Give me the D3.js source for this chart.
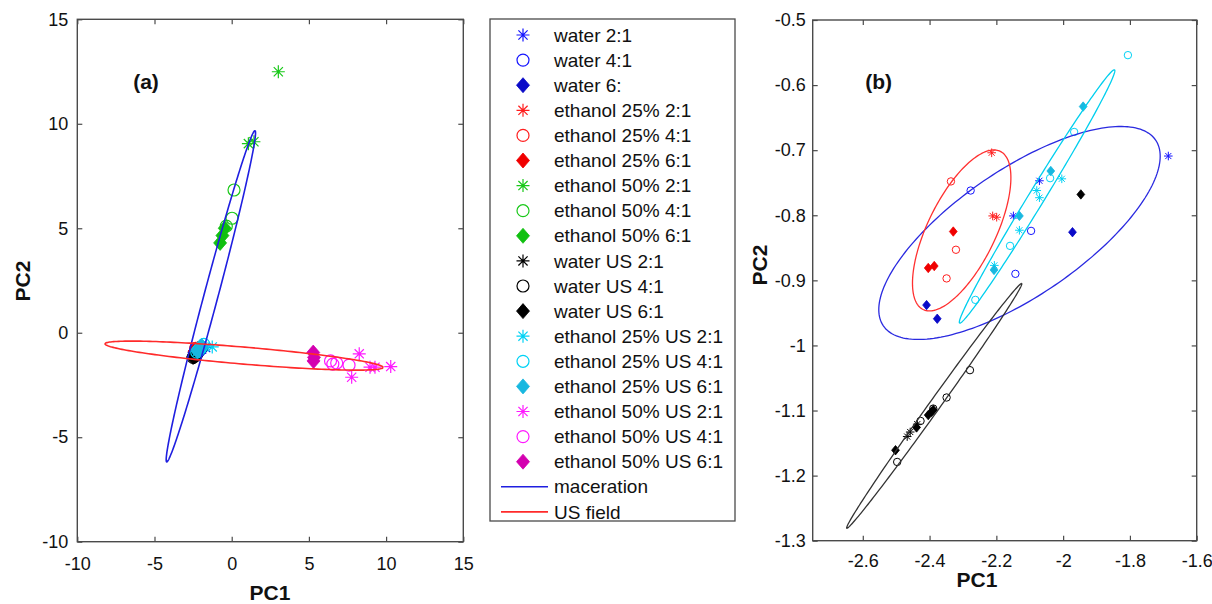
<!DOCTYPE html>
<html>
<head>
<meta charset="utf-8">
<script src="https://cdn.jsdelivr.net/npm/d3@7"></script>
<style>
  body { margin: 0; background: #fff; }
  svg { display: block; font-family: "Liberation Sans", Arial, Helvetica, sans-serif; }
</style>
</head>
<body>
<svg id="chart" width="1212" height="604"></svg>
<script>
// ---------- data: PCA scores [PC1, PC2] per extraction series ----------
const seriesLabels = [
  "water 2:1", "water 4:1", "water 6:",
  "ethanol 25% 2:1", "ethanol 25% 4:1", "ethanol 25% 6:1",
  "ethanol 50% 2:1", "ethanol 50% 4:1", "ethanol 50% 6:1",
  "water US 2:1", "water US 4:1", "water US 6:1",
  "ethanol 25% US 2:1", "ethanol 25% US 4:1", "ethanol 25% US 6:1",
  "ethanol 50% US 2:1", "ethanol 50% US 4:1", "ethanol 50% US 6:1"
];
const groupLabels = ["maceration", "US field"];

const water21 = [[-1.685, -0.709], [-2.071, -0.747], [-2.149, -0.801]];
const water41 = [[-2.277, -0.762], [-2.096, -0.824], [-2.143, -0.890]];
const water61 = [[-2.409, -0.938], [-2.377, -0.959], [-1.972, -0.826]];

const eth25_21 = [[-2.214, -0.704], [-2.211, -0.801], [-2.199, -0.803]];
const eth25_41 = [[-2.336, -0.748], [-2.321, -0.853], [-2.349, -0.897]];
const eth25_61 = [[-2.329, -0.825], [-2.404, -0.881], [-2.386, -0.878]];

const eth50_21 = [[3.02, 12.49], [1.08, 9.05], [1.44, 9.14]];
const eth50_41 = [[0.15, 6.83], [0.02, 5.48], [-0.35, 5.10]];
const eth50_61 = [[-0.75, 4.30], [-0.60, 4.65], [-0.45, 5.00]];

const waterUS21 = [[-2.467, -1.140], [-2.458, -1.133], [-2.437, -1.121]];
const waterUS41 = [[-2.497, -1.179], [-2.427, -1.116], [-2.389, -1.097], [-2.349, -1.080], [-2.279, -1.038]];
const waterUS61 = [[-2.502, -1.161], [-2.439, -1.126], [-2.404, -1.107], [-2.394, -1.102], [-2.389, -1.099], [-1.947, -0.768]];

const eth25US21 = [[-2.079, -0.762], [-2.071, -0.773], [-2.004, -0.744], [-2.206, -0.877], [-2.131, -0.823], [-1.26, -0.68]];
const eth25US41 = [[-1.806, -0.554], [-1.967, -0.672], [-2.039, -0.743], [-2.159, -0.847], [-2.263, -0.930]];
const eth25US61 = [[-1.940, -0.633], [-2.037, -0.732], [-2.131, -0.801], [-2.207, -0.884]];

const eth50US21 = [[8.26, -1.01], [7.77, -2.13], [8.96, -1.65], [9.28, -1.65], [10.30, -1.62]];
const eth50US41 = [[6.40, -1.35], [6.55, -1.50], [6.80, -1.45], [7.60, -1.55]];
const eth50US61 = [[5.28, -0.95], [5.33, -1.18], [5.30, -1.35]];

const seriesData = [
  water21, water41, water61,
  eth25_21, eth25_41, eth25_61,
  eth50_21, eth50_41, eth50_61,
  waterUS21, waterUS41, waterUS61,
  eth25US21, eth25US41, eth25US61,
  eth50US21, eth50US41, eth50US61
];

// confidence ellipses: centre, major semi-axis vector, minor semi-axis vector (data units)
const ellipsesA = [
  { c: [-1.35, 1.745], u: [2.86, 7.925], v: [0.438, -0.086] },     // maceration
  { c: [0.80, -1.095], u: [9.00, -0.565], v: [-0.047, -0.405] }    // US field
];
const ellipsesB = [
  { c: [-2.1307, -0.8272], u: [0.4077, 0.1427], v: [0.1065, -0.0801] },  // water
  { c: [-2.3038, -0.8233], u: [0.1155, 0.1215], v: [0.0915, -0.0229] },  // ethanol 25%
  { c: [-2.386, -1.0928], u: [0.262, 0.188], v: [0.0134, -0.0049] },     // water US
  { c: [-2.078, -0.7711], u: [0.232, 0.1945], v: [0.0204, -0.0064] }     // ethanol 25% US
];

// tick values
const ticksA = [-10, -5, 0, 5, 10, 15];
const xTicksB = [-2.6, -2.4, -2.2, -2, -1.8, -1.6];
const yTicksB = [-1.3, -1.2, -1.1, -1, -0.9, -0.8, -0.7, -0.6, -0.5];

// ---------- styles ----------
const markerKinds = ["asterisk", "circle", "diamond"];
const seriesColors = [
  "#1414ff", "#1414ff", "#0a0ac8",
  "#ff1e1e", "#ff1e1e", "#f00000",
  "#19c819", "#19c819", "#10c010",
  "#000000", "#000000", "#000000",
  "#00d2f5", "#00d2f5", "#18b8e0",
  "#ff19ff", "#ff19ff", "#d400b0"
];
const ellipseColorsA = ["#1f1fe0", "#ff2a2a"];
const ellipseColorsB = ["#2a2ae0", "#ff3030", "#333333", "#00cfee"];

const svg = d3.select("#chart");
const axisColor = "#4a4a4a";

function asteriskPath(s) {
  const d = s * 0.7071;
  return `M${-s},0L${s},0M0,${-s}L0,${s}M${-d},${-d}L${d},${d}M${-d},${d}L${d},${-d}`;
}
function diamondPath(w, h) {
  return `M0,${-h}L${w},0L0,${h}L${-w},0Z`;
}
function drawMarker(g, kind, color, sz) {
  if (kind === "asterisk") {
    g.append("path").attr("d", asteriskPath(sz.a))
      .attr("fill", "none").attr("stroke", color).attr("stroke-width", sz.sw);
  } else if (kind === "circle") {
    g.append("circle").attr("r", sz.r)
      .attr("fill", "none").attr("stroke", color).attr("stroke-width", sz.sw);
  } else {
    g.append("path").attr("d", diamondPath(sz.dw, sz.dh))
      .attr("fill", color).attr("stroke", color).attr("stroke-width", 0.8);
  }
}

function ellipsePoints(e) {
  const pts = [];
  for (let i = 0; i <= 200; i++) {
    const t = (i / 200) * 2 * Math.PI;
    pts.push([
      e.c[0] + Math.cos(t) * e.u[0] + Math.sin(t) * e.v[0],
      e.c[1] + Math.cos(t) * e.u[1] + Math.sin(t) * e.v[1]
    ]);
  }
  return pts;
}

// plain hyphen-minus tick labels
const tickText = d => String(d);

function drawPanel(opt) {
  const { id, left, right, top, bottom, xDomain, yDomain, xTicks, yTicks,
          xPad, yPad, ellipses, ellipseColors, ellipseWidth, sz } = opt;
  const x = d3.scaleLinear().domain(xDomain).range([left, right]);
  const y = d3.scaleLinear().domain(yDomain).range([bottom, top]);

  svg.append("clipPath").attr("id", "clip-" + id)
    .append("rect").attr("x", left).attr("y", top)
    .attr("width", right - left).attr("height", bottom - top);

  const plot = svg.append("g").attr("clip-path", `url(#clip-${id})`);

  seriesData.forEach((pts, i) => {
    const kind = markerKinds[i % 3];
    pts.forEach(p => {
      const g = plot.append("g").attr("transform", `translate(${x(p[0])},${y(p[1])})`);
      drawMarker(g, kind, seriesColors[i], sz);
    });
  });

  const line = d3.line().x(d => x(d[0])).y(d => y(d[1]));
  ellipses.forEach((e, i) => {
    plot.append("path").attr("d", line(ellipsePoints(e)))
      .attr("fill", "none").attr("stroke", ellipseColors[i])
      .attr("stroke-width", ellipseWidth);
  });

  const styleAxis = g => {
    g.select(".domain").remove();
    g.selectAll("line").attr("stroke", axisColor).attr("stroke-width", 1.2);
    g.selectAll("text").attr("fill", "#111").style("font-size", "18px")
      .style("font-family", '"Liberation Sans", Arial, sans-serif');
  };
  svg.append("g").attr("transform", `translate(0,${bottom})`)
    .call(d3.axisBottom(x).tickValues(xTicks).tickFormat(tickText).tickSize(-5).tickPadding(xPad))
    .call(styleAxis);
  svg.append("g").attr("transform", `translate(0,${top})`)
    .call(d3.axisTop(x).tickValues(xTicks).tickFormat("").tickSize(-5))
    .call(styleAxis);
  svg.append("g").attr("transform", `translate(${left},0)`)
    .call(d3.axisLeft(y).tickValues(yTicks).tickFormat(tickText).tickSize(-5).tickPadding(yPad))
    .call(styleAxis);
  svg.append("g").attr("transform", `translate(${right},0)`)
    .call(d3.axisRight(y).tickValues(yTicks).tickFormat("").tickSize(-5))
    .call(styleAxis);

  svg.append("rect").attr("x", left).attr("y", top)
    .attr("width", right - left).attr("height", bottom - top)
    .attr("fill", "none").attr("stroke", axisColor).attr("stroke-width", 1.4);

  return { x, y };
}

// ---------- panel (a) ----------
drawPanel({
  id: "a", left: 77.3, right: 463.3, top: 19.3, bottom: 541.7,
  xDomain: [-10, 15], yDomain: [-10, 15], xTicks: ticksA, yTicks: ticksA,
  xPad: 16, yPad: 9,
  ellipses: ellipsesA, ellipseColors: ellipseColorsA, ellipseWidth: 1.6,
  sz: { a: 6.5, r: 6, dw: 6.5, dh: 7.5, sw: 1.2 }
});

// ---------- panel (b) ----------
drawPanel({
  id: "b", left: 812.7, right: 1196.7, top: 20, bottom: 540.7,
  xDomain: [-2.75, -1.6], yDomain: [-1.3, -0.5], xTicks: xTicksB, yTicks: yTicksB,
  xPad: 14, yPad: 7,
  ellipses: ellipsesB, ellipseColors: ellipseColorsB, ellipseWidth: 1.3,
  sz: { a: 4.3, r: 3.7, dw: 3.9, dh: 4.7, sw: 1 }
});

// ---------- labels ----------
const labelFont = '"Liberation Sans", Arial, sans-serif';
function boldText(txt, x, y, size, rotate) {
  const t = svg.append("text").text(txt)
    .attr("text-anchor", "middle").attr("dy", "0.35em")
    .attr("fill", "#111").style("font-weight", "bold")
    .style("font-size", size + "px").style("font-family", labelFont);
  if (rotate) t.attr("transform", `translate(${x},${y}) rotate(-90)`);
  else t.attr("x", x).attr("y", y);
}
boldText("PC1", 270, 593, 21);
boldText("PC2", 22.5, 281, 21, true);
boldText("(a)", 146, 82, 21);
boldText("PC1", 977, 580, 21);
boldText("PC2", 760, 265, 21, true);
boldText("(b)", 878.7, 82, 21);

// ---------- legend ----------
const legend = svg.append("g");
const rowStep = 25.1, row0 = 35;
legend.append("rect").attr("x", 490).attr("y", 19).attr("width", 245).attr("height", 502)
  .attr("fill", "#fff").attr("stroke", axisColor).attr("stroke-width", 1.3);
const legendSz = { a: 6.5, r: 6, dw: 6.5, dh: 7.5, sw: 1.2 };
seriesLabels.forEach((lab, i) => {
  const yy = row0 + i * rowStep;
  const g = legend.append("g").attr("transform", `translate(523,${yy})`);
  drawMarker(g, markerKinds[i % 3], seriesColors[i], legendSz);
  legend.append("text").attr("x", 554).attr("y", yy).attr("dy", "0.35em")
    .text(lab).attr("fill", "#111").style("font-size", "19px").style("font-family", labelFont);
});
groupLabels.forEach((lab, j) => {
  const yy = row0 + (seriesLabels.length + j) * rowStep;
  legend.append("line").attr("x1", 501).attr("x2", 548).attr("y1", yy).attr("y2", yy)
    .attr("stroke", ellipseColorsA[j]).attr("stroke-width", 1.6);
  legend.append("text").attr("x", 554).attr("y", yy).attr("dy", "0.35em")
    .text(lab).attr("fill", "#111").style("font-size", "19px").style("font-family", labelFont);
});
</script>
</body>
</html>
